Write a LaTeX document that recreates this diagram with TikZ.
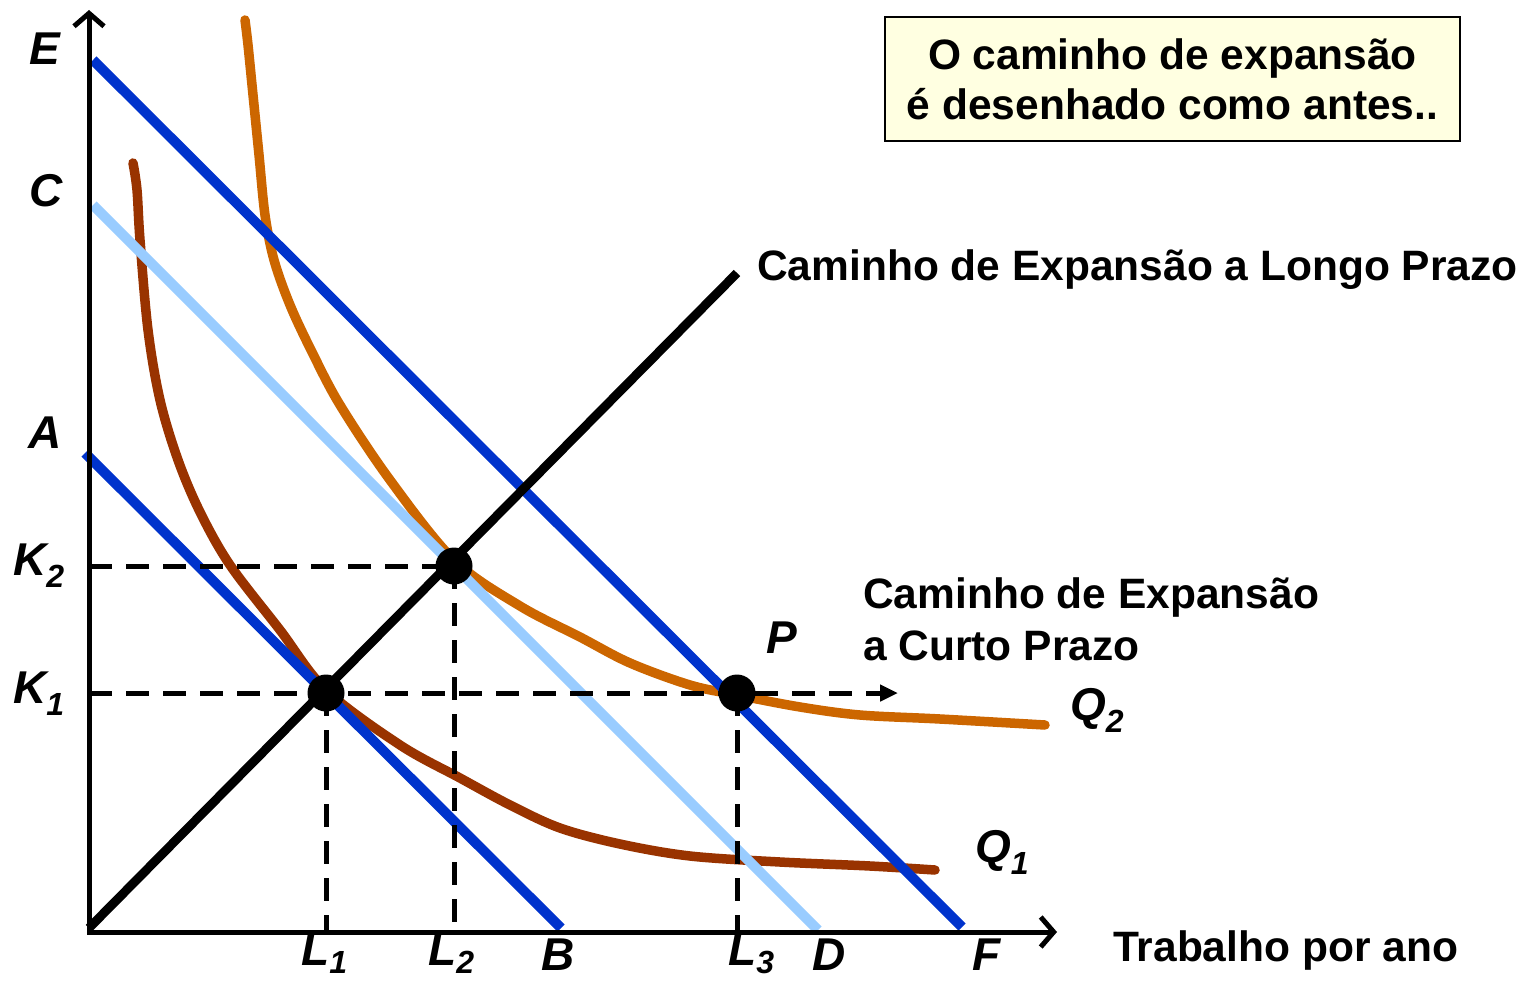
\documentclass[tikz,border=0pt]{standalone}
\usepackage{fontspec}
\setmainfont{Liberation Sans}
\usetikzlibrary{arrows.meta}
\definecolor{dblue}{HTML}{0033CC}
\definecolor{lblue}{HTML}{99CCFF}
\definecolor{brownq}{HTML}{993300}
\definecolor{orangeq}{HTML}{CC6600}
\definecolor{boxfill}{HTML}{FFFFE1}
\newcommand\subsc[1]{\raisebox{-0.27em}{\fontsize{32}{32}\selectfont #1}}
\newcommand\subsl[1]{\raisebox{-0.18em}{\fontsize{32}{32}\selectfont #1}}
\begin{document}
\begin{tikzpicture}[x=1pt,y=-1pt,
  lbl/.style={font=\fontsize{46}{46}\selectfont\bfseries\itshape, inner sep=0pt, anchor=base west},
  txt/.style={font=\fontsize{42.5}{50}\selectfont\bfseries, inner sep=0pt, anchor=base west},
  axisline/.style={line width=5pt, -{Straight Barb[length=13pt,width=30pt]}},
  budget/.style={line width=10pt},
  guide/.style={line width=5pt, dash pattern=on 23pt off 14pt},
  dot/.style={circle, fill=black, minimum size=37pt, inner sep=0pt},
  iso/.style={line width=9.5pt, line cap=round, line join=round},
  note/.style={draw=black, line width=2pt, fill=boxfill, minimum width=575pt, minimum height=124pt,
    align=center, font=\fontsize{42.5}{50}\selectfont\bfseries, inner sep=0pt}
]
\useasboundingbox (0,0) rectangle (1522,982);

% key coordinates
\coordinate (O) at (89,932);
\coordinate (ytop) at (89,10);
\coordinate (xstart) at (87,932);
\coordinate (xend) at (1057,932);
\coordinate (p1) at (326,693);
\coordinate (p2) at (454,566);
\coordinate (p3) at (737,693);
\coordinate (k1) at (89,693);
\coordinate (k2) at (89,566);
\coordinate (l1) at (326,932);
\coordinate (l2) at (454,932);
\coordinate (l3) at (737,932);
\coordinate (sr) at (898,693);
\coordinate (lrO) at (89,928);
\coordinate (lrEnd) at (737,273);
\coordinate (Etop) at (93,60);
\coordinate (Fend) at (962,927);
\coordinate (Ctop) at (93,205);
\coordinate (Dend) at (818,930);
\coordinate (Atop) at (85,453);
\coordinate (Bend) at (561,928);

% isoquants
\draw[iso, brownq] plot[smooth, tension=0.55] coordinates {(133,163) (137,190) (140,240) (148,330) (160,400) (178,460) (200,512) (230,565) (280,630) (326,690) (400,745) (460,778) (510,805) (560,828) (620,844) (690,856) (780,862) (870,866) (935,870)};
\draw[iso, orangeq] plot[smooth, tension=0.55] coordinates {(245,20) (248,45) (253,95) (259,155) (265,215) (274,260) (290,305) (312,352) (340,405) (390,480) (454,560) (520,606) (580,637) (630,663) (690,685) (737,695) (800,707) (860,715) (940,719) (1045,725)};

% isocost lines
\draw[budget, lblue] (Ctop) -- (Dend);
\draw[budget, dblue] (Etop) -- (Fend);
\draw[budget, dblue] (Atop) -- (Bend);

% long-run expansion path
\draw[line width=9pt] (lrO) -- (lrEnd);

% axes
\draw[axisline] (O) -- (ytop);
\draw[axisline] (xstart) -- (xend);

% guides
\draw[guide] (k2) -- (p2);
\draw[guide, -{Triangle[length=18pt,width=16pt]}] (k1) -- (sr);
\draw[guide] (p1) -- (l1);
\draw[guide] (p2) -- (l2);
\draw[guide] (p3) -- (l3);

% points
\node[dot] (d1) at (p1) {};
\node[dot] (d2) at (p2) {};
\node[dot] (d3) at (p3) {};

% labels
\node[lbl] (labE) at (29,64) {E};
\node[lbl] (labC) at (29,206) {C};
\node[lbl] (labA) at (28,448) {A};
\node[lbl] (labK2) at (13,575) {K\subsc{2}};
\node[lbl] (labK1) at (13,703) {K\subsc{1}};
\node[lbl] (labL1) at (301,965) {L\subsl{1}};
\node[lbl] (labL2) at (428,965) {L\subsl{2}};
\node[lbl] (labB) at (541,970) {B};
\node[lbl] (labL3) at (728,965) {L\subsl{3}};
\node[lbl] (labD) at (812,970) {D};
\node[lbl] (labF) at (972,970) {F};
\node[lbl] (labP) at (766,653) {P};
\node[lbl] (labQ2) at (1070,720) {Q\subsc{2}};
\node[lbl] (labQ1) at (975,862) {Q\subsc{1}};

\node[txt] (lr) at (757,280) {Caminho de Expansão a Longo Prazo};
\node[txt] (sr1) at (863,608) {Caminho de Expansão};
\node[txt] (sr2) at (863,660) {a Curto Prazo};
\node[txt] (xlab) at (1113,961) {Trabalho por ano};

\node[note] (box) at (1172.5,79) {O caminho de expansão\\é desenhado como antes..};
\end{tikzpicture}
\end{document}
